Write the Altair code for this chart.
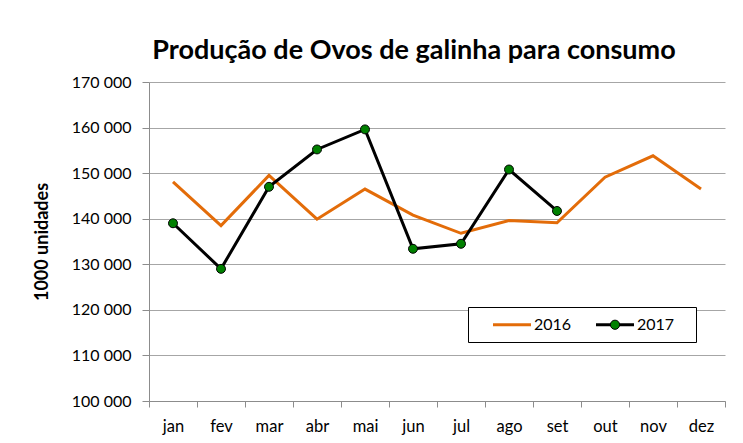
import altair as alt
import pandas as pd

# ---- data ----
months = ["jan", "fev", "mar", "abr", "mai", "jun", "jul", "ago", "set", "out", "nov", "dez"]
v2016 = [148100, 138500, 149500, 139900, 146500, 140800, 136800, 139600, 139100, 149100, 153800, 146500]
v2017 = [139000, 129000, 147000, 155200, 159600, 133400, 134500, 150800, 141700]
years = ["2016", "2017"]
y_ticks = [100000, 110000, 120000, 130000, 140000, 150000, 160000, 170000]

rows = []
for m, v in zip(months, v2016):
    rows.append({"mes": m, "valor": v, "ano": "2016"})
for m, v in zip(months, v2017):
    rows.append({"mes": m, "valor": v, "ano": "2017"})
df = pd.DataFrame(rows)
df["ano_p"] = df["ano"]

FONT = "Lato"
ORANGE = "#E36C09"
GREEN = "#008000"
GRID = "#A6A6A6"
AXIS = "#8C8C8C"

x_enc = alt.X(
    "mes:N",
    sort=months,
    scale=alt.Scale(type="band", domain=months, paddingInner=0, paddingOuter=0),
    axis=alt.Axis(
        title=None, labelAngle=0, tickBand="extent", grid=False,
        domainColor=AXIS, tickColor=AXIS, tickSize=6, labelPadding=11,
        labelFont=FONT, labelFontSize=16.5, labelColor="#000000",
    ),
)
y_enc = alt.Y(
    "valor:Q",
    scale=alt.Scale(domain=[100000, 170000], nice=False, zero=False),
    axis=alt.Axis(
        values=y_ticks, title="1000 unidades", grid=True, gridColor=GRID,
        domainColor=AXIS, tickColor=AXIS, tickSize=7, labelPadding=11,
        labelExpr="replace(format(datum.value, ','), ',', ' ')",
        labelFont=FONT, labelFontSize=16, labelColor="#000000",
        titleFont=FONT, titleFontSize=18, titleFontWeight="bold",
        titleColor="#000000", titlePadding=20,
    ),
)

LX, LY = 319, 225
line_sym = "M-2.714,0L2.714,0"
circle_sym = "M-0.575,0A0.575,0.575,0,1,0,0.575,0A0.575,0.575,0,1,0,-0.575,0Z"

legend_lines = alt.Legend(
    orient="none", legendX=LX, legendY=LY, direction="horizontal",
    title=".", titleOrient="right", titleColor="white", titleFontSize=16,
    titlePadding=8,
    symbolType=line_sym, symbolSize=196, symbolStrokeWidth=3, symbolOffset=26.5,
    labelFont=FONT, labelFontSize=16, labelColor="#000000", labelOffset=13.5,
    columnPadding=8, padding=9, fillColor="white", strokeColor="black",
    zindex=1,
)
legend_pts = alt.Legend(
    orient="none", legendX=LX, legendY=LY, direction="horizontal", title=None,
    symbolType=circle_sym, symbolSize=256, symbolStrokeWidth=1, symbolOffset=26.5,
    labelFont=FONT, labelFontSize=16, labelOpacity=0, labelOffset=13.5,
    columnPadding=8, padding=9, zindex=2,
)

lines = alt.Chart(df).mark_line(strokeWidth=3).encode(
    x=x_enc,
    y=y_enc,
    color=alt.Color("ano:N", scale=alt.Scale(range=[ORANGE, "#000000"]),
                    legend=legend_lines),
)

points = alt.Chart(df[df["ano"] == "2017"]).mark_point(
    filled=True, size=80, strokeWidth=1, opacity=1, shape="circle"
).encode(
    x=x_enc,
    y=y_enc,
    fill=alt.Fill("ano_p:N", scale=alt.Scale(domain=years, range=["transparent", GREEN]),
                  legend=legend_pts),
    stroke=alt.Stroke("ano_p:N", scale=alt.Scale(domain=years, range=["transparent", "#000000"]),
                      legend=legend_pts),
)

chart = alt.layer(lines, points).properties(
    width=576,
    height=319,
    title=alt.Title(
        "Produção de Ovos de galinha para consumo",
        font=FONT, fontSize=27, fontWeight="bold", color="#000000",
        anchor="middle", frame="group", baseline="alphabetic", offset=20, dx=-23, dy=32,
    ),
    autosize=alt.AutoSizeParams(type="none"),
    padding={"left": 141, "top": 74, "right": 10, "bottom": 40},
    background="white",
).configure_view(stroke=None)

chart.save("out.html", embed_options={"renderer": "svg", "actions": False})
